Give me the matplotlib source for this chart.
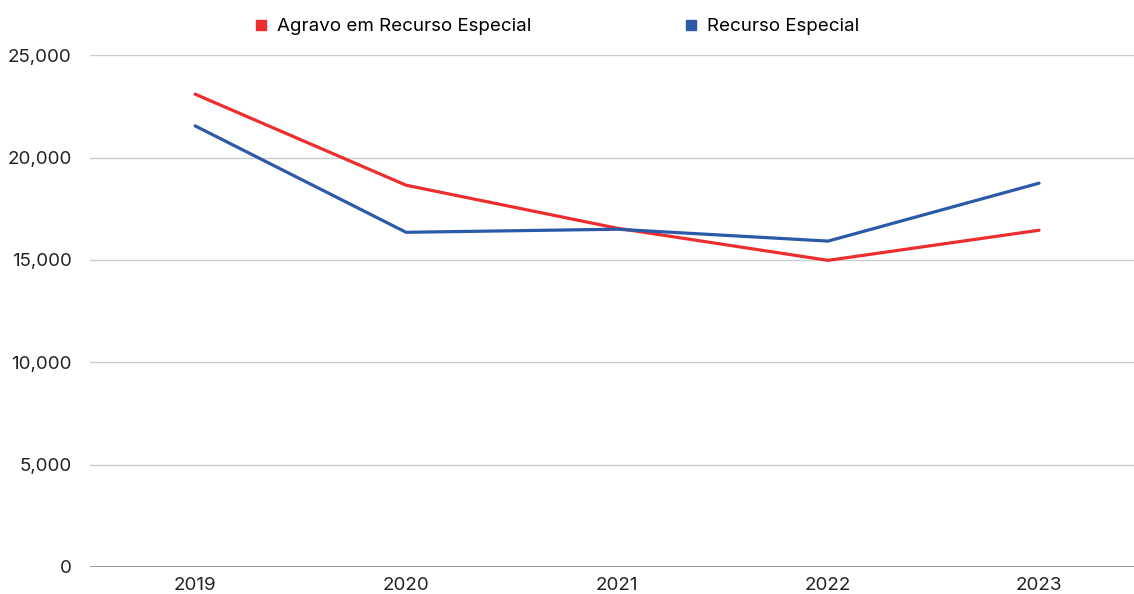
import numpy as np
import matplotlib.pyplot as plt
from matplotlib.lines import Line2D

plt.rcParams['font.family'] = ['Inter', 'DejaVu Sans']

years = ['2019', '2020', '2021', '2022', '2023']
agravo = [23100, 18650, 16550, 14980, 16450]
recurso = [21550, 16350, 16500, 15920, 18750]

red = '#EE2E2E'
blue = '#2B5AA8'

fig = plt.figure(figsize=(11.34, 5.94), dpi=100)
ax = fig.add_axes([0.079, 0.0455, 0.921, 0.8615])

x = np.arange(len(years))
ax.plot(x, agravo, color=red, lw=2.3, solid_capstyle='round', zorder=3)
ax.plot(x, recurso, color=blue, lw=2.3, solid_capstyle='round', zorder=3)

ax.set_ylim(0, 25000)
ax.set_xlim(-0.5, 4.45)
ax.set_yticks(np.arange(0, 25001, 5000))
ax.set_yticklabels([f'{v:,}' for v in range(0, 25001, 5000)])
ax.set_xticks(x)
ax.set_xticklabels(years)
ax.tick_params(length=0, labelsize=13.5, colors='#222222')
ax.tick_params(axis='y', pad=13)
ax.tick_params(axis='x', pad=7)
ax.grid(axis='y', color='#cccccc', lw=1)
ax.set_axisbelow(True)
for s in ax.spines.values():
    s.set_visible(False)
ax.axhline(0, color='#888888', lw=1.2, zorder=2)

handles = [Line2D([], [], marker='s', ls='none', color=red, markersize=7),
           Line2D([], [], marker='s', ls='none', color=blue, markersize=7)]
fig.legend(handles, ['Agravo em Recurso Especial', 'Recurso Especial'],
           loc='center', bbox_to_anchor=(0.49, 0.955), ncol=2, frameon=False,
           fontsize=13.5, handletextpad=0.35, columnspacing=8.0, handlelength=1.0)

fig.savefig('out.png', dpi=100)
